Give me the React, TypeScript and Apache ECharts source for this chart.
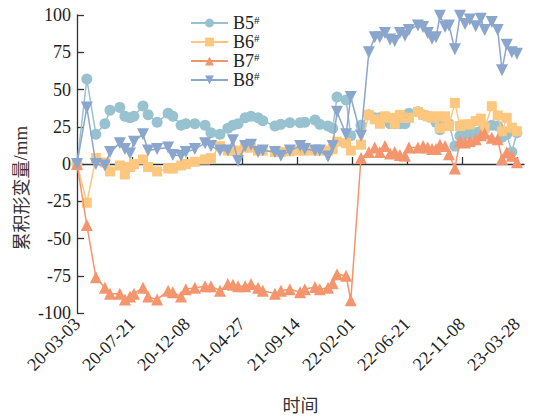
import React, { useEffect, useRef } from "react";
import * as echarts from "echarts";

const dates = [
  "2020-03-03", "2020-03-28", "2020-04-20", "2020-05-13", "2020-05-26", "2020-06-20", "2020-07-03", "2020-07-16",
  "2020-07-26", "2020-08-18", "2020-08-31", "2020-09-23", "2020-10-21", "2020-11-02", "2020-11-23", "2020-12-05",
  "2020-12-28", "2021-01-23", "2021-02-07", "2021-03-02", "2021-03-22", "2021-04-04", "2021-04-17", "2021-05-05",
  "2021-05-20", "2021-06-07", "2021-06-19", "2021-07-20", "2021-08-04", "2021-08-27", "2021-09-22", "2021-10-04",
  "2021-10-30", "2021-11-11", "2021-12-02", "2021-12-14", "2021-12-25", "2022-01-17", "2022-01-29", "2022-02-24",
  "2022-03-16", "2022-03-31", "2022-04-13", "2022-04-26", "2022-05-09", "2022-05-21", "2022-06-03", "2022-06-16",
  "2022-06-26", "2022-07-19", "2022-08-01", "2022-08-13", "2022-08-24", "2022-09-03", "2022-09-13", "2022-09-26",
  "2022-10-06", "2022-10-21", "2022-11-03", "2022-11-16", "2022-11-28", "2022-12-13", "2022-12-26", "2023-01-05",
  "2023-01-23", "2023-02-07", "2023-02-18", "2023-03-02", "2023-03-15", "2023-03-28",
];

const b5 = [
  0, 57, 20, 27, 36, 38, 32, 31, 32, 39, 33, 28, 34, 32, 26, 27, 27, 26, 21, 20, 24, 26, 27, 31,
  32, 31, 29, 25.5, 26.6, 27.7, 27.7, 28, 29.5, 26.6, 25.5, 24, 45, 43, 19, 26, 33, 31, 31, 31,
  27, 27, 27, 27, 34, 35, 33, 32, 31, 28, 23, 27, 27, 12, 19, 20, 20, 21, 22, 24, 26, 25.5, 18, 20, 8, 21,
];
const b6 = [
  0, -26, 4, 1, -5, -1, -7, -2, 0, 3, -2, -5, -3, -3, -1, 0, 1.5, 3, 4, 12, 9, 9, 9, 11,
  11, 9, 9, 8, 8, 8.5, 9, 9, 9, 9, 9, 10, 15, 14, 9, 13, 33, 30, 27, 32, 31, 27, 33, 31,
  31, 35, 33, 32, 31, 32, 24, 32, 25.5, 41, 25.5, 26.6, 26.6, 28.8, 30.4, 24.4, 38.8, 32.6, 22, 31, 24.4, 22,
];
const b7 = [
  0, -41, -76, -83, -87, -87, -91, -89, -87, -83, -89, -91, -85, -86, -89, -84, -83, -82, -82, -85, -80.5, -81, -82, -82,
  -80.5, -83, -85, -87, -85, -84, -86, -84, -82.6, -84, -83, -80, -74, -75, -91.5, 4, 8, 11, 8, 12, 7, 8, 6, 5.5,
  11, 11, 12, 11, 10, 10, 13, 12, 6.6, -3, 15.5, 14.5, 15.5, 16.6, 19.3, 20.5, 17.7, 16.6, 3.3, 7.8, 5.5, 1.1,
];
const b8 = [
  0, 38, 0, -1, 8, 14, 10, 7, 15, 20, 9, 10, 11, 6, 5.5, 8, 10, 14, 12, 9, 9, 16, 2, 12,
  13, 8, 9, 8, 5.5, 9, 12, 10, 9, 9, 5, 12, 35, 20, 45, 19, 75, 85, 85, 88, 83.5, 82.6, 88, 86,
  90, 93, 92, 88, 84, 85, 99.5, 92, 93, 77, 99.5, 94, 97, 92.5, 97.5, 90, 95.3, 90, 63, 80, 75, 74,
];

const seriesNames = ["B5#", "B6#", "B7#", "B8#"];
const seriesColors = ["#98c2d0", "#fdc77f", "#f4956d", "#8ba6cc"];
const seriesSymbols = ["circle", "rect", "triangle", "triangle"];
const seriesRotate = [0, 0, 0, 180];
const seriesSizes = [11, 10, 12, 12];

const BASE = Date.UTC(2020, 2, 3);
const DAY = 86400000;
const toDays = (s: string) => {
  const [y, m, d] = s.split("-").map(Number);
  return Math.round((Date.UTC(y, m - 1, d) - BASE) / DAY);
};
const fmtDay = (v: number) => {
  const dt = new Date(BASE + v * DAY);
  const p = (n: number) => String(n).padStart(2, "0");
  return `${p(dt.getUTCFullYear() % 100)}-${p(dt.getUTCMonth() + 1)}-${p(dt.getUTCDate())}`;
};

const SERIF = "'Liberation Serif', 'Times New Roman', 'Noto Sans CJK SC', serif";
const CJK = "'Noto Sans CJK SC', 'Liberation Serif', serif";

export default function App() {
  const ref = useRef<HTMLDivElement>(null);
  useEffect(() => {
    if (!ref.current) return;
    const chart = echarts.init(ref.current, undefined, { renderer: "svg" });
    const xs = dates.map(toDays);
    const all = [b5, b6, b7, b8];
    const axisLine = { show: true, lineStyle: { color: "#333", width: 1.3 } };
    chart.setOption({
      animation: false,
      backgroundColor: "#fff",
      grid: { left: 77, right: 9, top: 15, bottom: 103 },
      graphic: [
        {
          type: "text",
          x: 20,
          y: 188,
          rotation: Math.PI / 2,
          style: {
            text: "{c|累积形变量}{d|/mm}",
            align: "center",
            verticalAlign: "middle",
            rich: {
              c: { fontFamily: CJK, fontSize: 18, fill: "#333" },
              d: { fontFamily: SERIF, fontSize: 19, fill: "#333" },
            },
          },
        },
      ],
      legend: {
        orient: "vertical",
        left: 185,
        top: 9,
        itemWidth: 37,
        itemHeight: 11,
        itemGap: 1,
        data: seriesNames,
        formatter: (n: string) => `{a|${n.replace("#", "")}}{b|#}`,
        textStyle: {
          rich: {
            a: { fontFamily: SERIF, fontSize: 18, color: "#222", lineHeight: 18 },
            b: { fontFamily: SERIF, fontSize: 11, color: "#222", verticalAlign: "top", lineHeight: 18 },
          },
        },
      },
      xAxis: {
        type: "value",
        min: 0,
        max: 1138,
        interval: 140,
        name: "时间",
        nameLocation: "middle",
        nameGap: 82,
        nameTextStyle: { fontFamily: CJK, fontSize: 18, color: "#333" },
        axisLine,
        axisTick: { show: true, inside: true, length: 7, lineStyle: { color: "#333", width: 1.3 } },
        axisLabel: {
          rotate: 45,
          margin: 8,
          fontFamily: SERIF,
          fontSize: 18,
          color: "#222",
          formatter: (v: number) => fmtDay(v),
          showMaxLabel: false,
        },
        splitLine: { show: false },
      },
      yAxis: {
        type: "value",
        min: -100,
        max: 100,
        interval: 25,
        axisLine,
        axisTick: { show: true, inside: true, length: 7, lineStyle: { color: "#333", width: 1.3 } },
        axisLabel: { fontFamily: SERIF, fontSize: 18, color: "#222", margin: 6 },
        splitLine: { show: false },
      },
      series: seriesNames.map((name, i) => ({
        name,
        type: "line",
        data: xs.map((x, j) => [x, all[i][j]]),
        symbol: seriesSymbols[i],
        symbolRotate: seriesRotate[i],
        symbolSize: seriesSizes[i],
        showAllSymbol: true,
        lineStyle: { color: seriesColors[i], width: 1.5 },
        itemStyle: { color: seriesColors[i] },
        z: 2 + i,
      })),
    });
    return () => chart.dispose();
  }, []);
  return (
    <div
      ref={ref}
      style={{ position: "fixed", left: 0, top: 0, width: 533, height: 418 }}
    />
  );
}
